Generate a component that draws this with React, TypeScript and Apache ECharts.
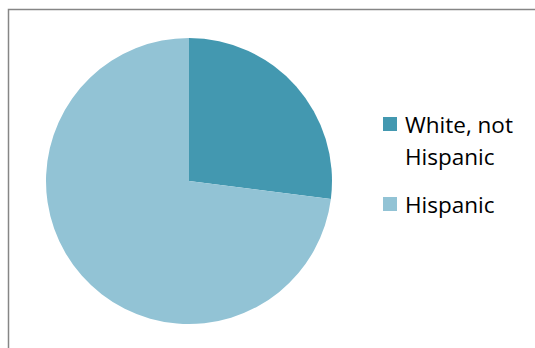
import React, { useEffect, useRef } from "react";
import * as echarts from "echarts";

const categories = ["White, not Hispanic", "Hispanic"];
const legendLabels = ["\nWhite, not\nHispanic", "Hispanic"];
const values = [27, 73];
const colors = ["#4398B0", "#92C3D5"];

export default function App() {
  const ref = useRef<HTMLDivElement>(null);
  useEffect(() => {
    if (!ref.current) return;
    const chart = echarts.init(ref.current, null, { renderer: "svg" });
    const font = "'Open Sans', 'Noto Sans', sans-serif";
    chart.setOption({
      animation: false,
      backgroundColor: "#ffffff",
      color: colors,
      graphic: [
        {
          type: "rect",
          shape: { x: 8.5, y: 9.5, width: 600, height: 400 },
          style: { fill: "none", stroke: "#868686", lineWidth: 1.5 },
          silent: true,
        },
      ],
      legend: {
        orient: "vertical",
        left: 383,
        top: 76,
        padding: 0,
        itemWidth: 14,
        itemHeight: 14,
        itemGap: 16,
        icon: "rect",
        formatter: (name: string) => legendLabels[categories.indexOf(name)],
        textStyle: {
          fontFamily: font,
          fontSize: 22.5,
          lineHeight: 32,
          color: "#000000",
          padding: [0, 0, 0, 3],
        },
        data: categories,
      },
      series: [
        {
          type: "pie",
          center: [189, 181],
          radius: 143,
          startAngle: 90,
          clockwise: true,
          label: { show: false },
          labelLine: { show: false },
          itemStyle: { borderWidth: 0 },
          emphasis: { disabled: true },
          data: categories.map((c, i) => ({ name: c, value: values[i] })),
        },
      ],
    });
    return () => chart.dispose();
  }, []);
  return (
    <div
      ref={ref}
      style={{ position: "fixed", left: 0, top: 0, width: 535, height: 348 }}
    />
  );
}
